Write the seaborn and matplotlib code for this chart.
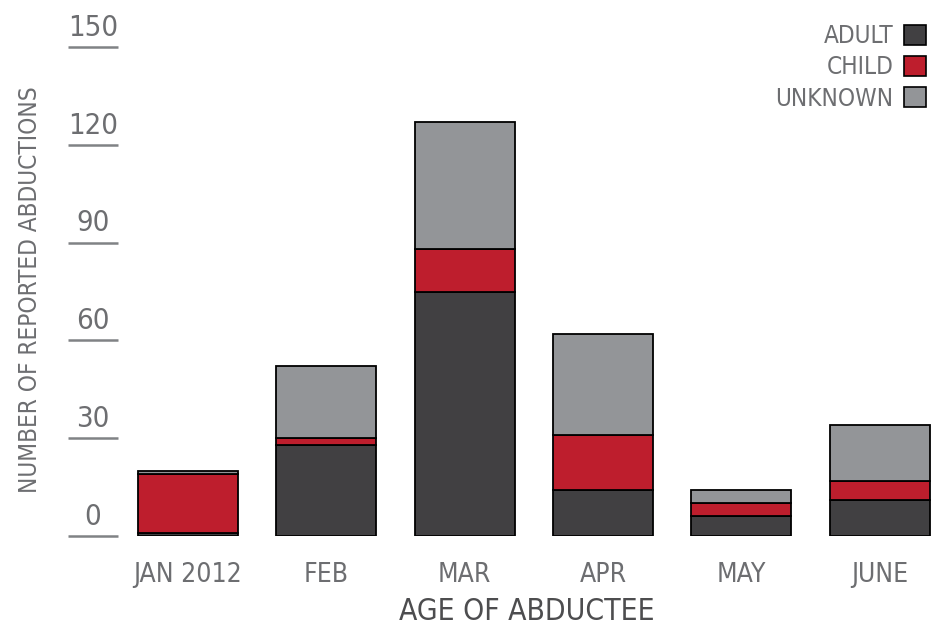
import numpy as np
import pandas as pd
import matplotlib
matplotlib.use("Agg")
import matplotlib.pyplot as plt
from matplotlib.patches import Patch
import seaborn as sns

# values
months = ["JAN 2012", "FEB", "MAR", "APR", "MAY", "JUNE"]
adult = [1, 28, 75, 14, 6, 11]
child = [18, 2, 13, 17, 4, 6]
unknown = [1, 22, 39, 31, 4, 17]
y_ticks = [0, 30, 60, 90, 120, 150]

colors = {"ADULT": "#414042", "CHILD": "#be1e2d", "UNKNOWN": "#939598"}
text_grey = "#6d6e71"

sns.set_theme(style="white")
plt.rcParams["font.family"] = ["DejaVu Sans"]
plt.rcParams["font.stretch"] = "condensed"

df = pd.DataFrame({"month": months, "adult": adult, "child": child, "unknown": unknown})
df["child_bottom"] = df["adult"]
df["unknown_bottom"] = df["adult"] + df["child"]

fig = plt.figure(figsize=(9.45, 6.4), dpi=100)
ax = fig.add_axes([66 / 945, 1 - 536 / 640, (931 - 66) / 945, (536 - 47) / 640])

bar_kw = dict(order=months, width=0.723, edgecolor="black", linewidth=1.3, ax=ax)
sns.barplot(data=df, x="month", y="adult", color=colors["ADULT"], saturation=1, **bar_kw)
sns.barplot(data=df, x="month", y="child", bottom=df["child_bottom"], color=colors["CHILD"], saturation=1, **bar_kw)
sns.barplot(data=df, x="month", y="unknown", bottom=df["unknown_bottom"], color=colors["UNKNOWN"], saturation=1, **bar_kw)

ax.set_xlim(-0.882, 5.372)
ax.set_ylim(0, 150)
sns.despine(ax=ax, left=True, bottom=True)
ax.set_xlabel("")
ax.set_ylabel("")
ax.set_yticks([])
ax.tick_params(axis="x", length=0, pad=19, labelsize=19, labelcolor=text_grey)

# short grey tick lines with the numbers sitting on top
ax.hlines(y_ticks, -0.868, -0.506, colors="#808285", linewidth=1.8, clip_on=False)
for t in y_ticks:
    ax.text(-0.687, t + 1.6, str(t), ha="center", va="bottom", fontsize=21,
            color=text_grey, clip_on=False)

fig.text(527 / 945, 1 - 612 / 640, "AGE OF ABDUCTEE", ha="center", va="center",
         fontsize=21.5, color="#4d4d4f")
fig.text(30 / 945, 1 - 290 / 640, "NUMBER OF REPORTED ABDUCTIONS", ha="center",
         va="center", rotation=90, fontsize=17.5, color=text_grey)

handles = [Patch(facecolor=c, edgecolor="black", linewidth=1.2) for c in colors.values()]
ax.legend(handles, list(colors.keys()), loc="upper right",
          bbox_to_anchor=(926 / 945, 1 - 24 / 640), bbox_transform=fig.transFigure,
          frameon=False, markerfirst=False, fontsize=17.5, labelcolor=text_grey,
          handlelength=0.9, handleheight=0.9, handletextpad=0.45, labelspacing=0.3,
          borderaxespad=0, borderpad=0)

fig.savefig("out.png", dpi=100)
